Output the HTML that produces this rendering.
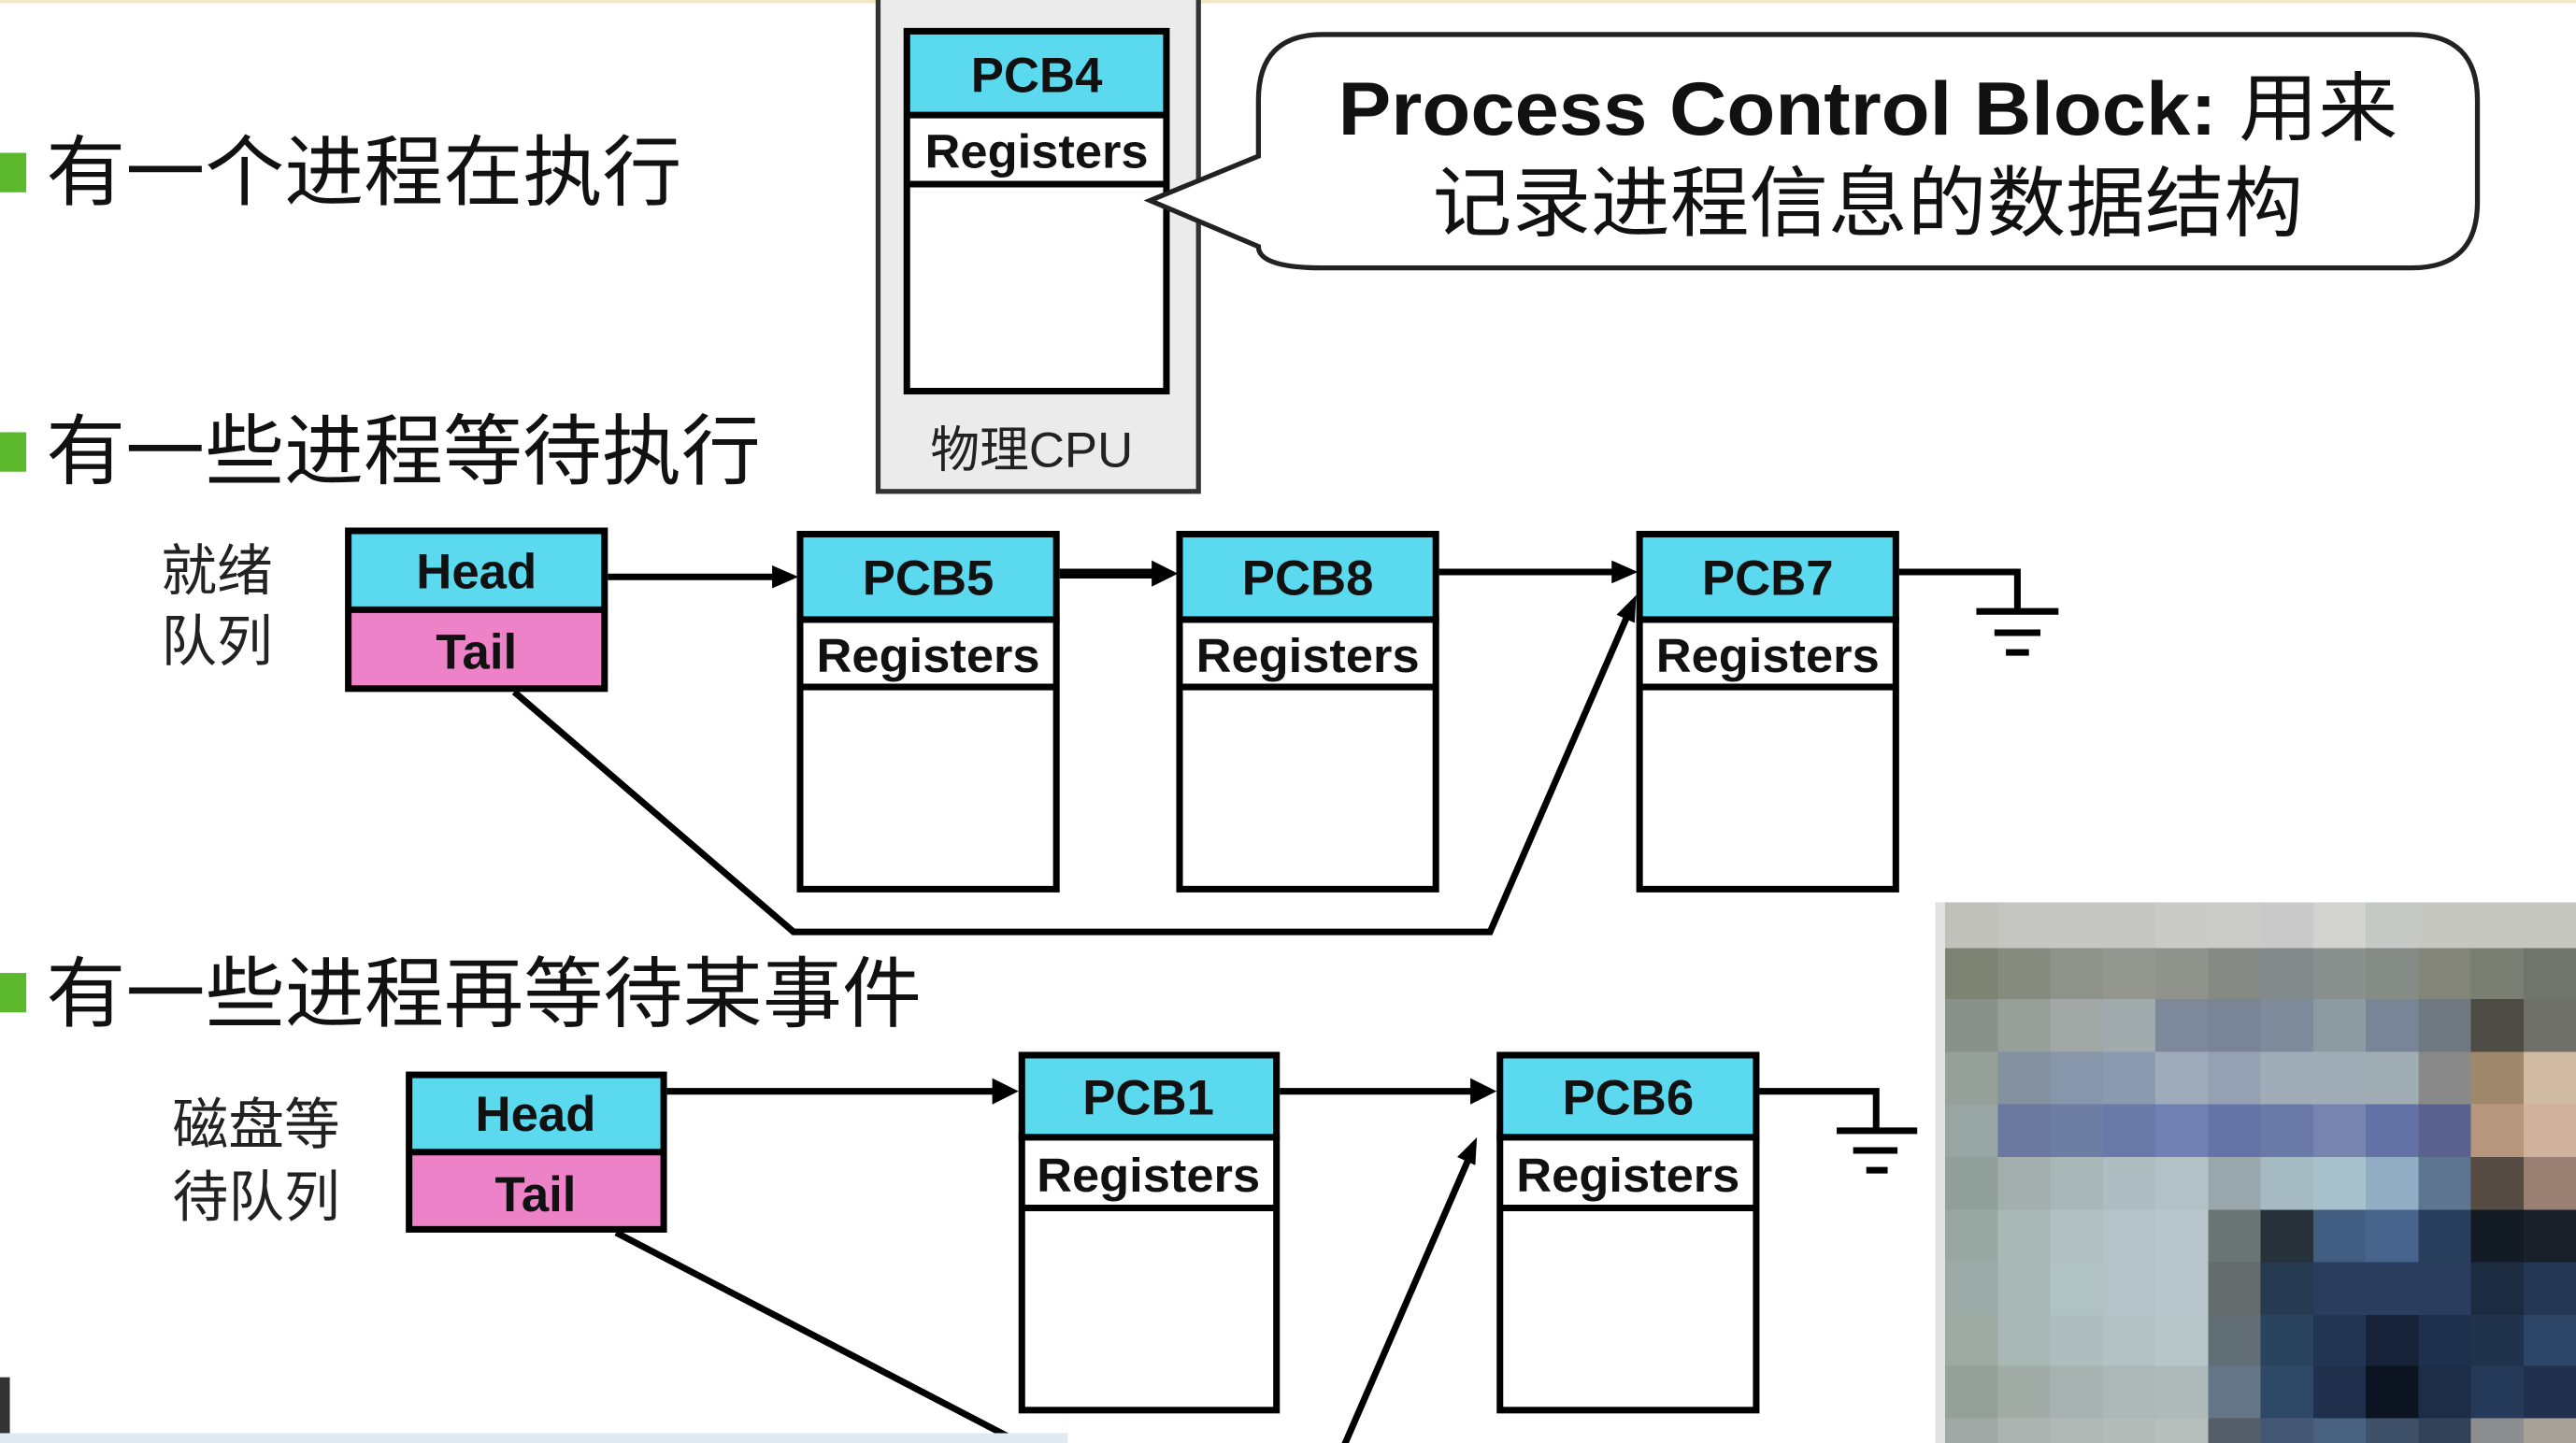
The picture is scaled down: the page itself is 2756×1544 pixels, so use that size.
<!DOCTYPE html>
<html><head><meta charset="utf-8"><style>
html,body{margin:0;padding:0;background:#fff;}
svg{display:block}
text{font-family:"Liberation Sans","Noto Sans CJK SC",sans-serif;}
.b{font-weight:bold;}
</style></head><body>
<svg width="2756" height="1544" viewBox="0 0 1568 878" preserveAspectRatio="none" xmlns="http://www.w3.org/2000/svg">
<rect x="0" y="0" width="1568" height="878" fill="#fff"/>
<rect x="0" y="0" width="1568" height="2" fill="#eee9c4"/>
<rect x="0" y="93" width="16" height="24" fill="#5cb82c"/>
<rect x="0" y="263" width="16" height="24" fill="#5cb82c"/>
<rect x="0" y="592" width="16" height="24" fill="#5cb82c"/>
<text x="28" y="121" font-size="47" fill="#111" textLength="387" lengthAdjust="spacingAndGlyphs">有一个进程在执行</text>
<text x="28" y="291" font-size="47" fill="#111" textLength="435" lengthAdjust="spacingAndGlyphs">有一些进程等待执行</text>
<text x="28" y="621" font-size="47" fill="#111" textLength="533" lengthAdjust="spacingAndGlyphs">有一些进程再等待某事件</text>
<rect x="534.5" y="-5" width="195" height="304" fill="#ebebeb" stroke="#333" stroke-width="3"/>
<rect x="552" y="19" width="158" height="51" fill="#5bd9ef"/>
<rect x="552" y="70" width="158" height="168" fill="#fff"/>
<rect x="552" y="19" width="158" height="219" fill="none" stroke="#000" stroke-width="4"/>
<line x1="552" y1="70" x2="710" y2="70" stroke="#000" stroke-width="4"/>
<line x1="552" y1="112" x2="710" y2="112" stroke="#000" stroke-width="4"/>
<text x="631" y="56" font-size="30" class="b" text-anchor="middle" fill="#111">PCB4</text>
<text x="631" y="102" font-size="29" class="b" text-anchor="middle" fill="#111" textLength="136" lengthAdjust="spacingAndGlyphs">Registers</text>
<text x="628" y="284" font-size="30" text-anchor="middle" fill="#222">物理CPU</text>
<path d="M805,21 H1468 Q1508,21 1508,61 V123 Q1508,163 1468,163 H805 Q766,163 766,150 L700,122 L766,95 V61 Q766,21 805,21 Z" fill="#fff" stroke="#222" stroke-width="3"/>
<text x="1137" y="82" font-size="46" class="b" text-anchor="middle" fill="#111" textLength="645" lengthAdjust="spacingAndGlyphs">Process Control Block: <tspan font-weight="normal">用来</tspan></text>
<text x="1137" y="140" font-size="47" text-anchor="middle" fill="#111" textLength="530" lengthAdjust="spacingAndGlyphs">记录进程信息的数据结构</text>
<text x="98" y="359" font-size="34" fill="#222">就绪</text>
<text x="98" y="402" font-size="34" fill="#222">队列</text>
<rect x="212" y="323" width="156" height="48" fill="#5bd9ef"/>
<rect x="212" y="371" width="156" height="48" fill="#ee82c8"/>
<rect x="212" y="323" width="156" height="96" fill="none" stroke="#000" stroke-width="4"/>
<line x1="212" y1="371" x2="368" y2="371" stroke="#000" stroke-width="4"/>
<text x="290" y="358" font-size="30" class="b" text-anchor="middle" fill="#111">Head</text>
<text x="290" y="407" font-size="30" class="b" text-anchor="middle" fill="#111">Tail</text>
<g stroke="#000" stroke-width="4">
<rect x="487" y="325" width="156" height="52" fill="#5bd9ef"/>
<rect x="487" y="377" width="156" height="164" fill="#fff"/>
<line x1="487" y1="418" x2="643" y2="418"/>
<rect x="718" y="325" width="156" height="52" fill="#5bd9ef"/>
<rect x="718" y="377" width="156" height="164" fill="#fff"/>
<line x1="718" y1="418" x2="874" y2="418"/>
<rect x="998" y="325" width="156" height="52" fill="#5bd9ef"/>
<rect x="998" y="377" width="156" height="164" fill="#fff"/>
<line x1="998" y1="418" x2="1154" y2="418"/>
</g>
<g class="b" font-size="30" text-anchor="middle" fill="#111">
<text x="565" y="362">PCB5</text>
<text x="796" y="362">PCB8</text>
<text x="1076" y="362">PCB7</text>
</g>
<g class="b" font-size="29" text-anchor="middle" fill="#111">
<text x="565" y="409" textLength="136" lengthAdjust="spacingAndGlyphs">Registers</text>
<text x="796" y="409" textLength="136" lengthAdjust="spacingAndGlyphs">Registers</text>
<text x="1076" y="409" textLength="136" lengthAdjust="spacingAndGlyphs">Registers</text>
</g>
<g stroke="#000" fill="none" stroke-width="4">
<line x1="370" y1="351" x2="472" y2="351"/>
<line x1="645" y1="349" x2="704" y2="349" stroke-width="6"/>
<line x1="876" y1="348" x2="984" y2="348"/>
<polyline points="1156,348 1228,348 1228,372"/>
<line x1="1203" y1="372" x2="1253" y2="372"/>
<line x1="1214" y1="385" x2="1242" y2="385"/>
<line x1="1221" y1="397" x2="1235" y2="397"/>
<polyline points="313,421 483,567 907,567 990,376"/>
</g>
<g fill="#000">
<polygon points="486,351 470,344 470,358"/>
<polygon points="717,349 701,341 701,357"/>
<polygon points="997,348 981,341 981,355"/>
<polygon points="996,362 984,374 995,379"/>
</g>
<text x="105" y="696" font-size="34" fill="#222">磁盘等</text>
<text x="105" y="740" font-size="34" fill="#222">待队列</text>
<rect x="249" y="654" width="155" height="47" fill="#5bd9ef"/>
<rect x="249" y="701" width="155" height="47" fill="#ee82c8"/>
<rect x="249" y="654" width="155" height="94" fill="none" stroke="#000" stroke-width="4"/>
<line x1="249" y1="701" x2="404" y2="701" stroke="#000" stroke-width="4"/>
<text x="326" y="688" font-size="30" class="b" text-anchor="middle" fill="#111">Head</text>
<text x="326" y="737" font-size="30" class="b" text-anchor="middle" fill="#111">Tail</text>
<g stroke="#000" stroke-width="4">
<rect x="622" y="642" width="155" height="50" fill="#5bd9ef"/>
<rect x="622" y="692" width="155" height="166" fill="#fff"/>
<line x1="622" y1="735" x2="777" y2="735"/>
<rect x="913" y="642" width="156" height="50" fill="#5bd9ef"/>
<rect x="913" y="692" width="156" height="166" fill="#fff"/>
<line x1="913" y1="735" x2="1069" y2="735"/>
</g>
<g class="b" font-size="30" text-anchor="middle" fill="#111">
<text x="699" y="678">PCB1</text>
<text x="991" y="678">PCB6</text>
</g>
<g class="b" font-size="29" text-anchor="middle" fill="#111">
<text x="699" y="725" textLength="136" lengthAdjust="spacingAndGlyphs">Registers</text>
<text x="991" y="725" textLength="136" lengthAdjust="spacingAndGlyphs">Registers</text>
</g>
<g stroke="#000" fill="none" stroke-width="4">
<line x1="406" y1="664" x2="606" y2="664"/>
<line x1="779" y1="664" x2="898" y2="664"/>
<polyline points="1071,664 1142,664 1142,688"/>
<line x1="1118" y1="688" x2="1167" y2="688"/>
<line x1="1128" y1="700" x2="1155" y2="700"/>
<line x1="1136" y1="712" x2="1149" y2="712"/>
<line x1="375" y1="750" x2="625" y2="880"/>
<line x1="818" y1="880" x2="894" y2="705"/>
</g>
<g fill="#000">
<polygon points="620,664 604,656 604,672"/>
<polygon points="911,664 895,656 895,672"/>
<polygon points="899,692 887,704 898,709"/>
</g>
<rect x="0" y="838" width="6" height="40" fill="#333"/>
<rect x="0" y="872" width="650" height="6" fill="#dfeaf3"/>
<rect x="1178" y="549" width="390" height="329" fill="#e0e2e0"/>
<g shape-rendering="crispEdges">
<g transform="translate(1184,549)">
<rect x="0" width="33" height="29" fill="#c0c1bb"/><rect x="32" width="33" height="29" fill="#c5c6c1"/><rect x="64" width="33" height="29" fill="#c6c7c2"/><rect x="96" width="33" height="29" fill="#c6c7c2"/><rect x="128" width="33" height="29" fill="#cacbc6"/><rect x="160" width="33" height="29" fill="#cbccc7"/><rect x="192" width="33" height="29" fill="#c8c9c8"/><rect x="224" width="33" height="29" fill="#d3d3d1"/><rect x="256" width="33" height="29" fill="#c6c8c6"/><rect x="288" width="33" height="29" fill="#c6c7c1"/><rect x="320" width="33" height="29" fill="#c6c7c1"/><rect x="352" width="33" height="29" fill="#c6c7c1"/>
</g>
<g transform="translate(1184,577)">
<rect x="0" width="33" height="32" fill="#7e8474"/><rect x="32" width="33" height="32" fill="#868b80"/><rect x="64" width="33" height="32" fill="#8e9289"/><rect x="96" width="33" height="32" fill="#939790"/><rect x="128" width="33" height="32" fill="#8f938c"/><rect x="160" width="33" height="32" fill="#858a85"/><rect x="192" width="33" height="32" fill="#828a8c"/><rect x="224" width="33" height="32" fill="#8a908e"/><rect x="256" width="33" height="32" fill="#858b85"/><rect x="288" width="33" height="32" fill="#828577"/><rect x="320" width="33" height="32" fill="#7a7f74"/><rect x="352" width="33" height="32" fill="#6f756c"/>
</g>
<g transform="translate(1184,608)">
<rect x="0" width="33" height="33" fill="#89928a"/><rect x="32" width="33" height="33" fill="#97a098"/><rect x="64" width="33" height="33" fill="#a2a8a5"/><rect x="96" width="33" height="33" fill="#a1aaad"/><rect x="128" width="33" height="33" fill="#7d899b"/><rect x="160" width="33" height="33" fill="#798597"/><rect x="192" width="33" height="33" fill="#7f8a9b"/><rect x="224" width="33" height="33" fill="#8e9aa1"/><rect x="256" width="33" height="33" fill="#788597"/><rect x="288" width="33" height="33" fill="#6f7780"/><rect x="320" width="33" height="33" fill="#4c4c45"/><rect x="352" width="33" height="33" fill="#6f7068"/>
</g>
<g transform="translate(1184,640)">
<rect x="0" width="33" height="33" fill="#95a098"/><rect x="32" width="33" height="33" fill="#84919f"/><rect x="64" width="33" height="33" fill="#8796aa"/><rect x="96" width="33" height="33" fill="#8a9bb0"/><rect x="128" width="33" height="33" fill="#9dabbb"/><rect x="160" width="33" height="33" fill="#93a1b3"/><rect x="192" width="33" height="33" fill="#a0adb8"/><rect x="224" width="33" height="33" fill="#a0adb8"/><rect x="256" width="33" height="33" fill="#a1adb5"/><rect x="288" width="33" height="33" fill="#898989"/><rect x="320" width="33" height="33" fill="#a0886d"/><rect x="352" width="33" height="33" fill="#d0baa2"/>
</g>
<g transform="translate(1184,672)">
<rect x="0" width="33" height="33" fill="#97a5a3"/><rect x="32" width="33" height="33" fill="#6b78a0"/><rect x="64" width="33" height="33" fill="#6e7da3"/><rect x="96" width="33" height="33" fill="#6a7aa8"/><rect x="128" width="33" height="33" fill="#7080b2"/><rect x="160" width="33" height="33" fill="#6474a6"/><rect x="192" width="33" height="33" fill="#6a79a8"/><rect x="224" width="33" height="33" fill="#7884b0"/><rect x="256" width="33" height="33" fill="#6372a4"/><rect x="288" width="33" height="33" fill="#5b618d"/><rect x="320" width="33" height="33" fill="#b7977e"/><rect x="352" width="33" height="33" fill="#d1b29c"/>
</g>
<g transform="translate(1184,704)">
<rect x="0" width="33" height="33" fill="#919f9a"/><rect x="32" width="33" height="33" fill="#a2afae"/><rect x="64" width="33" height="33" fill="#a9b7b8"/><rect x="96" width="33" height="33" fill="#afbcc2"/><rect x="128" width="33" height="33" fill="#b3c1c7"/><rect x="160" width="33" height="33" fill="#99a7ad"/><rect x="192" width="33" height="33" fill="#a5bac2"/><rect x="224" width="33" height="33" fill="#a8c0cb"/><rect x="256" width="33" height="33" fill="#91adc4"/><rect x="288" width="33" height="33" fill="#5d758f"/><rect x="320" width="33" height="33" fill="#574c43"/><rect x="352" width="33" height="33" fill="#9a8072"/>
</g>
<g transform="translate(1184,736)">
<rect x="0" width="33" height="33" fill="#99a7a3"/><rect x="32" width="33" height="33" fill="#a9b8b7"/><rect x="64" width="33" height="33" fill="#b1c1c2"/><rect x="96" width="33" height="33" fill="#b5c3c9"/><rect x="128" width="33" height="33" fill="#b8c6cc"/><rect x="160" width="33" height="33" fill="#6a7573"/><rect x="192" width="33" height="33" fill="#263139"/><rect x="224" width="33" height="33" fill="#415e82"/><rect x="256" width="33" height="33" fill="#46648c"/><rect x="288" width="33" height="33" fill="#293d5d"/><rect x="320" width="33" height="33" fill="#121a24"/><rect x="352" width="33" height="33" fill="#19202a"/>
</g>
<g transform="translate(1184,768)">
<rect x="0" width="33" height="33" fill="#9caaa8"/><rect x="32" width="33" height="33" fill="#a9b8b7"/><rect x="64" width="33" height="33" fill="#b1c2c3"/><rect x="96" width="33" height="33" fill="#b5c3c9"/><rect x="128" width="33" height="33" fill="#b8c6cc"/><rect x="160" width="33" height="33" fill="#636c6b"/><rect x="192" width="33" height="33" fill="#263a52"/><rect x="224" width="33" height="33" fill="#2a3d5e"/><rect x="256" width="33" height="33" fill="#2a3d5e"/><rect x="288" width="33" height="33" fill="#2a3d5e"/><rect x="320" width="33" height="33" fill="#1d2b41"/><rect x="352" width="33" height="33" fill="#243755"/>
</g>
<g transform="translate(1184,800)">
<rect x="0" width="33" height="32" fill="#9caaa2"/><rect x="32" width="33" height="32" fill="#a8b8b5"/><rect x="64" width="33" height="32" fill="#aebebf"/><rect x="96" width="33" height="32" fill="#b3c3c5"/><rect x="128" width="33" height="32" fill="#b6c6c9"/><rect x="160" width="33" height="32" fill="#626e75"/><rect x="192" width="33" height="32" fill="#2a435f"/><rect x="224" width="33" height="32" fill="#223553"/><rect x="256" width="33" height="32" fill="#172338"/><rect x="288" width="33" height="32" fill="#1f2f4e"/><rect x="320" width="33" height="32" fill="#21324d"/><rect x="352" width="33" height="32" fill="#2d4566"/>
</g>
<g transform="translate(1184,831)">
<rect x="0" width="33" height="33" fill="#94a198"/><rect x="32" width="33" height="33" fill="#a1aca7"/><rect x="64" width="33" height="33" fill="#a7b3b1"/><rect x="96" width="33" height="33" fill="#abb8b7"/><rect x="128" width="33" height="33" fill="#adbab9"/><rect x="160" width="33" height="33" fill="#637587"/><rect x="192" width="33" height="33" fill="#2e4868"/><rect x="224" width="33" height="33" fill="#1f2f4c"/><rect x="256" width="33" height="33" fill="#0c1422"/><rect x="288" width="33" height="33" fill="#1e2d47"/><rect x="320" width="33" height="33" fill="#253959"/><rect x="352" width="33" height="33" fill="#1f2f4c"/>
</g>
<g transform="translate(1184,863)">
<rect x="0" width="33" height="15" fill="#a0a7a4"/><rect x="32" width="33" height="15" fill="#acb3b0"/><rect x="64" width="33" height="15" fill="#b1b8b5"/><rect x="96" width="33" height="15" fill="#b3bcb9"/><rect x="128" width="33" height="15" fill="#b6bfbc"/><rect x="160" width="33" height="15" fill="#555f69"/><rect x="192" width="33" height="15" fill="#445775"/><rect x="224" width="33" height="15" fill="#4a6282"/><rect x="256" width="33" height="15" fill="#3f5069"/><rect x="288" width="33" height="15" fill="#324358"/><rect x="320" width="33" height="15" fill="#8d8e92"/><rect x="352" width="33" height="15" fill="#a8a19a"/>
</g>
</g>
</svg>
</body></html>
